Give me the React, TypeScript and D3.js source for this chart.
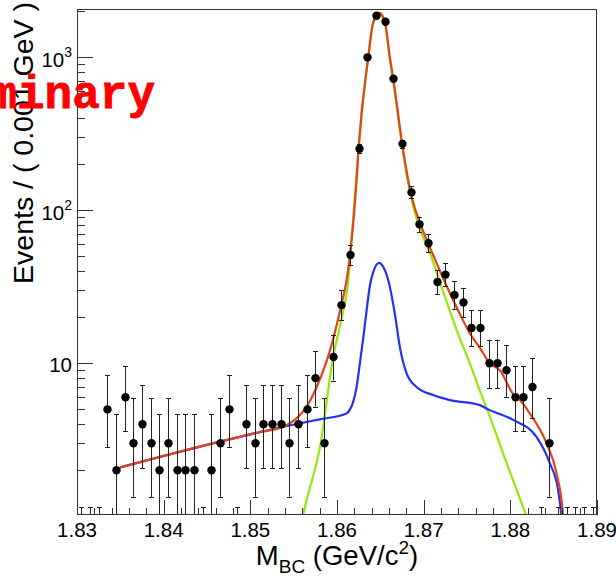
import * as d3 from "d3";
import { useEffect, useRef } from "react";

// binning of the histogram (GeV)
const binStart = 1.83;
const binWidth = 0.001;

// events per bin
const counts = [
  0, 0, 0, 5, 2, 6, 3, 4, 3, 2,
  3, 2, 2, 2, 0, 2, 3, 5, 0, 4,
  3, 4, 4, 4, 3, 4, 5, 8, 3, 11,
  24, 51, 253, 1000, 1870, 1710, 725, 272, 131, 81,
  61, 34, 38, 28, 25, 17, 17, 10, 10, 9,
  6, 6, 7, 0, 3, 0, 0, 0, 0, 0,
];

// total fit (red)
const totalX = [
  1.83496, 1.84649, 1.85076, 1.85379, 1.85572, 1.85649, 1.8575, 1.85887, 1.8605, 1.86111,
  1.8615, 1.86226, 1.86249, 1.8636, 1.86418, 1.86487, 1.86552, 1.8661, 1.86649, 1.86764,
  1.8685, 1.86956, 1.87052, 1.87225, 1.87418, 1.87533, 1.87648, 1.87764, 1.87879, 1.88032,
  1.8811, 1.88225, 1.88418, 1.88533, 1.88609, 1.8864,
];
const totalY = [
  2.09, 3.08, 3.52, 3.85, 4.6, 5.2, 6.7, 10.6, 24, 35,
  51, 158, 253, 1000, 1700, 1950, 1710, 1000, 725, 245,
  131, 83, 61, 36, 21, 15.7, 12.6, 10, 9.0, 6.3,
  5.75, 4.7, 3.0, 1.91, 1.0, 0.5,
];

// background component (blue)
const bkgX = [
  1.835, 1.8465, 1.8508, 1.8538, 1.8557, 1.858, 1.8611, 1.8615, 1.86187, 1.86226,
  1.86264, 1.86302, 1.86341, 1.86379, 1.86418, 1.86487, 1.8653, 1.86591, 1.86668, 1.86725,
  1.86803, 1.86918, 1.8711, 1.87302, 1.87648, 1.87744, 1.88032, 1.88302, 1.88456, 1.88551,
  1.8859, 1.8862,
];
const bkgY = [
  2.09, 3.08, 3.52, 3.85, 4.05, 4.3, 4.7, 5.0, 5.6, 7.0,
  10, 14.5, 22, 32, 39.5, 45.4, 43, 35, 21, 12.8,
  8.6, 7.0, 6.2, 5.75, 5.33, 5.0, 4.27, 3.3, 2.22, 1.49,
  1.0, 0.6,
];

// signal component (green)
const sigX = [
  1.8555, 1.856, 1.85811, 1.85956, 1.86072, 1.8612, 1.86198, 1.86245, 1.863, 1.8636,
  1.86418, 1.86487, 1.86552, 1.8661, 1.86649, 1.86764, 1.86852, 1.86956, 1.87072, 1.87187,
  1.87418, 1.87533, 1.87648, 1.87744, 1.87917, 1.88187, 1.8826,
];
const sigY = [
  0.65, 0.95, 3.0, 11, 22, 31, 108, 240, 520, 980,
  1660, 1905, 1670, 965, 698, 235, 123, 76, 52.5, 33.9,
  14.5, 10, 6.6, 4.8, 2.57, 1.0, 0.78,
];

const xMajorTicks = [1.83, 1.84, 1.85, 1.86, 1.87, 1.88, 1.89];
const xTickLabels = ["1.83", "1.84", "1.85", "1.86", "1.87", "1.88", "1.89"];
const yMajorTicks = [10, 100, 1000];
const yTickExps = ["", "2", "3"];

// Poisson interval as drawn by RooFit (one sided for empty bins)
const poisson = (n) =>
  n === 0 ? [0, 1.148] : [n - Math.sqrt(n - 0.25), n + 1 + Math.sqrt(n + 0.75)];

const App = () => {
  const ref = useRef(null);

  useEffect(() => {
    const svg = d3.select(ref.current);
    svg.selectAll("*").remove();

    const left = 77, right = 597, top = 9, bottom = 515;
    const x = d3.scaleLinear().domain([1.83, 1.89]).range([left, right]);
    const y = d3.scaleLog().domain([1.02, 2070]).range([bottom, top]);
    const font = "'Liberation Sans', Arial, Helvetica, sans-serif";

    svg.append("defs").append("clipPath").attr("id", "frame")
      .append("rect").attr("x", left).attr("y", top)
      .attr("width", right - left).attr("height", bottom - top);

    const plot = svg.append("g").attr("clip-path", "url(#frame)");

    // fit curves
    const line = d3.line()
      .x((d) => x(d[0]))
      .y((d) => y(d[1]))
      .curve(d3.curveMonotoneX);
    const curves = [
      { xs: sigX, ys: sigY, color: "#94e80c" },
      { xs: bkgX, ys: bkgY, color: "#2432f2" },
      { xs: totalX, ys: totalY, color: "#e2431c" },
    ];
    curves.forEach((c) => {
      plot.append("path")
        .attr("d", line(c.xs.map((v, i) => [v, c.ys[i]])))
        .attr("fill", "none")
        .attr("stroke", c.color)
        .attr("stroke-width", 2.2);
    });

    // data with error bars
    const bins = counts.map((n, i) => {
      const [lo, hi] = poisson(n);
      return { x: binStart + binWidth * (i + 0.5), n, lo, hi };
    });
    const yc = (v) => (v <= 0 ? bottom + 20 : y(v));
    const eb = plot.append("g").attr("stroke", "#222").attr("stroke-width", 1);
    bins.forEach((b) => {
      const px = Math.round(x(b.x)) + 0.5;
      eb.append("line").attr("x1", px).attr("x2", px)
        .attr("y1", yc(b.lo)).attr("y2", y(b.hi));
      eb.append("line").attr("x1", px - 2.5).attr("x2", px + 2.5)
        .attr("y1", Math.round(y(b.hi)) + 0.5).attr("y2", Math.round(y(b.hi)) + 0.5);
      eb.append("line").attr("x1", px - 2.5).attr("x2", px + 2.5)
        .attr("y1", Math.round(yc(b.lo)) + 0.5).attr("y2", Math.round(yc(b.lo)) + 0.5);
    });
    plot.selectAll("circle.pt")
      .data(bins.filter((b) => b.n > 0))
      .join("circle")
      .attr("cx", (d) => Math.round(x(d.x)) + 0.5)
      .attr("cy", (d) => y(d.n))
      .attr("r", 4.2)
      .attr("fill", "#000");

    // frame
    svg.append("rect")
      .attr("x", left + 0.5).attr("y", top + 0.5)
      .attr("width", right - left - 1).attr("height", bottom - top - 1)
      .attr("fill", "none").attr("stroke", "#333").attr("stroke-width", 1);

    // x ticks
    const ax = svg.append("g").attr("stroke", "#333").attr("stroke-width", 1);
    d3.range(0, 31).forEach((i) => {
      const v = 1.83 + i * 0.002;
      const px = Math.round(x(v)) + 0.5;
      const len = i % 5 === 0 ? 15 : 7;
      ax.append("line").attr("x1", px).attr("x2", px)
        .attr("y1", bottom).attr("y2", bottom - len);
    });
    svg.append("g").selectAll("text")
      .data(xMajorTicks)
      .join("text")
      .attr("x", (d) => x(d))
      .attr("y", 537)
      .attr("text-anchor", "middle")
      .attr("font-family", font)
      .attr("font-size", 20.5)
      .text((d, i) => xTickLabels[i]);

    // y ticks (log)
    const minor = [];
    [1, 10, 100, 1000].forEach((dec) => {
      d3.range(2, 10).forEach((m) => {
        const v = dec * m;
        if (v > 1.02 && v < 2070) minor.push(v);
      });
    });
    minor.forEach((v) => {
      const py = Math.round(y(v)) + 0.5;
      ax.append("line").attr("x1", left).attr("x2", left + 8)
        .attr("y1", py).attr("y2", py);
    });
    yMajorTicks.forEach((v, i) => {
      const py = Math.round(y(v)) + 0.5;
      ax.append("line").attr("x1", left).attr("x2", left + 16)
        .attr("y1", py).attr("y2", py);
      const t = svg.append("text")
        .attr("x", 72)
        .attr("y", y(v) + (yTickExps[i] ? 10 : 8.5))
        .attr("text-anchor", "end")
        .attr("font-family", font)
        .attr("font-size", 20.5);
      t.append("tspan").text("10");
      if (yTickExps[i]) {
        t.append("tspan").attr("font-size", 14).attr("dy", -10).text(yTickExps[i]);
      }
    });

    // axis titles
    const xt = svg.append("text")
      .attr("x", 337)
      .attr("y", 565)
      .attr("text-anchor", "middle")
      .attr("font-family", font)
      .attr("font-size", 27.5);
    xt.append("tspan").text("M");
    xt.append("tspan").attr("font-size", 19).attr("dy", 8).text("BC");
    xt.append("tspan").attr("dy", -8).text(" (GeV/c");
    xt.append("tspan").attr("font-size", 19).attr("dy", -11).text("2");
    xt.append("tspan").attr("dy", 11).text(")");

    svg.append("text")
      .attr("transform", "translate(33,2) rotate(-90)")
      .attr("text-anchor", "end")
      .attr("font-family", font)
      .attr("font-size", 28.5)
      .text("Events / ( 0.001 GeV )");

    // preliminary stamp, runs off the left edge as in the original
    svg.append("text")
      .attr("x", 155)
      .attr("y", 108)
      .attr("text-anchor", "end")
      .attr("font-family", "'Liberation Mono', 'DejaVu Sans Mono', monospace")
      .attr("font-weight", "bold")
      .attr("font-size", 46)
      .attr("fill", "#ff0000")
      .attr("stroke", "#ff0000")
      .attr("stroke-width", 0.8)
      .text("Preliminary");
  }, []);

  return (
    <svg
      ref={ref}
      width={616}
      height={583}
      style={{ position: "absolute", left: 0, top: 0, background: "#fff" }}
    />
  );
};

export default App;
